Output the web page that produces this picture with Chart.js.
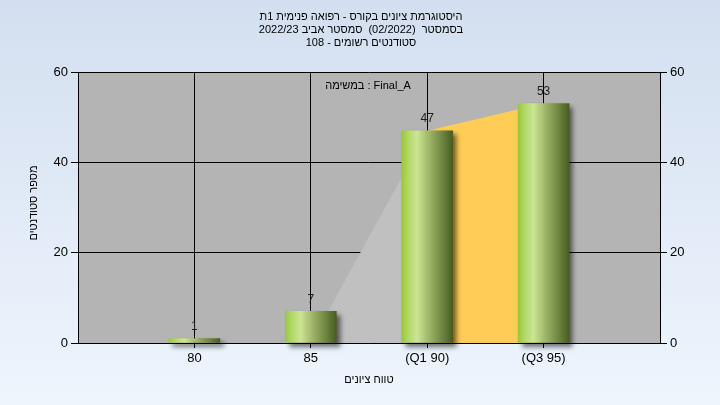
<!DOCTYPE html>
<html>
<head>
<meta charset="utf-8">
<script src="https://cdn.jsdelivr.net/npm/chart.js@4/dist/chart.umd.min.js"></script>
<style>
  html, body { margin: 0; padding: 0; }
  body { width: 720px; height: 405px; background: linear-gradient(to bottom, #d3dff0 0%, #eef5fd 100%); overflow: hidden; }
  #wrap { width: 720px; height: 405px; position: relative; }
</style>
</head>
<body>
<div id="wrap"><canvas id="c" width="720" height="405"></canvas></div>
<script>
// ---- data ----
const categories = [80, 85, 90, 95];
const tickLabels = ['80', '85', '(Q1 90)', '(Q3 95)'];
const studentCounts = [1, 7, 47, 53];
const lowerAreaX = [85, 90];
const lowerAreaY = [0, 47];
const iqrAreaX = [90, 95];
const iqrAreaY = [47, 53];
const yTickValues = [0, 20, 40, 60];
const titleLines = [
  'היסטוגרמת ציונים בקורס - רפואה פנימית 1ת',
  'בסמסטר  (02/2022)  סמסטר אביב 2022/23',
  'סטודנטים רשומים - 108'
];
const xAxisTitle = 'טווח ציונים';
const yAxisTitle = 'מספר סטודנטים';
const taskLabel = 'במשימה : Final_A';

const FONT = "'Liberation Sans', 'DejaVu Sans', Arial, sans-serif";

const barGradient = (ctx) => {
  const chart = ctx.chart;
  if (ctx.type !== 'data' || !chart.chartArea) return '#a8cf5a';
  const xs = chart.scales.x;
  const cx = xs.getPixelForValue(categories[ctx.dataIndex]);
  const half = 25.5;
  const g = chart.ctx.createLinearGradient(cx - half, 0, cx + half, 0);
  g.addColorStop(0, '#9ac836');
  g.addColorStop(0.12, '#b0d766');
  g.addColorStop(0.3, '#cce593');
  g.addColorStop(0.55, '#9cb267');
  g.addColorStop(0.8, '#6d8441');
  g.addColorStop(1, '#485c20');
  return g;
};

const shadowPlugin = {
  id: 'barShadow',
  beforeDatasetDraw(chart, args) {
    if (args.meta.type !== 'bar') return;
    const c = chart.ctx;
    c.save();
    c.shadowColor = 'rgba(0,0,0,0.55)';
    c.shadowBlur = 5;
    c.shadowOffsetX = 4;
    c.shadowOffsetY = 4;
  },
  afterDatasetDraw(chart, args) {
    if (args.meta.type !== 'bar') return;
    chart.ctx.restore();
  }
};

const textPlugin = {
  id: 'texts',
  afterDraw(chart) {
    const c = chart.ctx;
    c.save();
    c.fillStyle = '#000';
    c.textAlign = 'center';
    c.textBaseline = 'middle';
    c.font = '11px ' + FONT;
    const ty = [17, 30, 43];
    titleLines.forEach((t, i) => c.fillText(t, 361, ty[i]));
    // task label
    c.fillText(taskLabel, 368, 86);
    // y title rotated
    c.save();
    c.translate(34, 203);
    c.rotate(-Math.PI / 2);
    c.fillText(yAxisTitle, 0, 0);
    c.restore();
    // value labels
    const meta = chart.getDatasetMeta(2);
    c.fillStyle = '#1e1e1e';
    c.font = '12px ' + FONT;
    c.textBaseline = 'bottom';
    meta.data.forEach((bar, i) => {
      c.fillText(String(studentCounts[i]), bar.x, bar.y - 6);
    });
    c.restore();
  }
};

new Chart(document.getElementById('c'), {
  type: 'bar',
  data: {
    datasets: [
      {
        type: 'line',
        data: lowerAreaX.map((x, i) => ({ x, y: lowerAreaY[i] })),
        fill: 'origin',
        backgroundColor: '#c0c0c0',
        borderWidth: 0,
        pointRadius: 0,
        tension: 0,
        order: 3
      },
      {
        type: 'line',
        data: iqrAreaX.map((x, i) => ({ x, y: iqrAreaY[i] })),
        fill: 'origin',
        backgroundColor: '#ffcc55',
        borderWidth: 0,
        pointRadius: 0,
        tension: 0,
        order: 2
      },
      {
        type: 'bar',
        data: categories.map((x, i) => ({ x, y: studentCounts[i] })),
        backgroundColor: barGradient,
        borderWidth: 0,
        barThickness: 51,
        clip: false,
        order: 1
      }
    ]
  },
  options: {
    responsive: false,
    animation: false,
    events: [],
    layout: { padding: { top: 72, left: 0, right: 0, bottom: 0 } },
    plugins: { legend: { display: false }, tooltip: { enabled: false }, title: { display: false } },
    scales: {
      x: {
        type: 'linear',
        min: 75,
        max: 100,
        offset: false,
        afterBuildTicks: (s) => { s.ticks = categories.map(v => ({ value: v })); },
        afterFit: (s) => { s.height = 62; },
        ticks: {
          callback: (v) => tickLabels[categories.indexOf(v)],
          color: '#000',
          font: { family: FONT, size: 13 },
          padding: 3,
          maxRotation: 0,
          autoSkip: false
        },
        grid: { color: '#000', lineWidth: 1, tickLength: 5, drawTicks: true, offset: false },
        border: { color: '#000', width: 1 },
        title: {
          display: true,
          text: xAxisTitle,
          color: '#000',
          font: { family: FONT, size: 11 },
          padding: { top: 2, bottom: 18 }
        }
      },
      y: {
        position: 'left',
        min: 0,
        max: 60,
        afterBuildTicks: (s) => { s.ticks = yTickValues.map(v => ({ value: v })); },
        afterFit: (s) => { s.width = 78; },
        ticks: { color: '#000', font: { family: FONT, size: 13 }, padding: 3 },
        grid: { color: '#000', lineWidth: 1, tickLength: 7 },
        border: { color: '#000', width: 1 }
      },
      y2: {
        position: 'right',
        min: 0,
        max: 60,
        afterBuildTicks: (s) => { s.ticks = yTickValues.map(v => ({ value: v })); },
        afterFit: (s) => { s.width = 60; },
        ticks: { color: '#000', font: { family: FONT, size: 13 }, padding: 3 },
        grid: { color: '#000', lineWidth: 1, tickLength: 7, drawOnChartArea: false },
        border: { color: '#000', width: 1 }
      }
    }
  },
  plugins: [shadowPlugin, textPlugin, {
    id: 'plotBg',
    beforeDraw(chart) {
      const a = chart.chartArea;
      const c = chart.ctx;
      c.save();
      c.fillStyle = '#b4b4b4';
      c.fillRect(a.left, a.top, a.right - a.left, a.bottom - a.top);
      c.restore();
    }
  }]
});
</script>
</body>
</html>
